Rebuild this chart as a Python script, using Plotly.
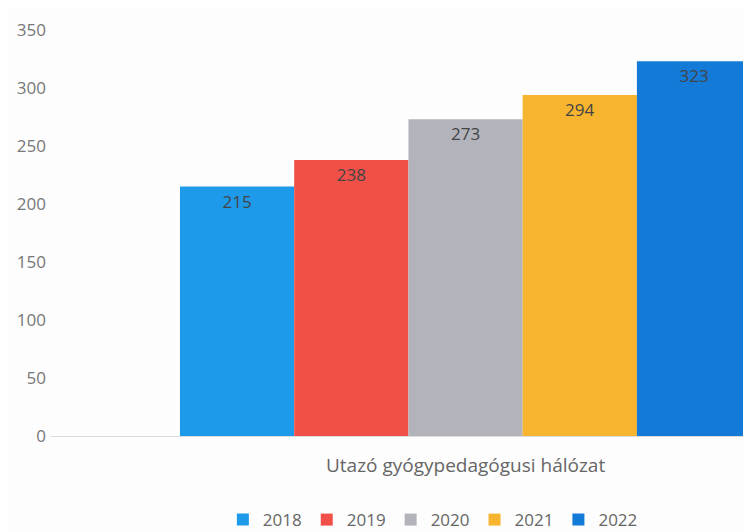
import plotly.graph_objects as go

category = ["Utazó gyógypedagógusi hálózat"]
years = ["2018", "2019", "2020", "2021", "2022"]
values = [215, 238, 273, 294, 323]
colors = ["#1E9AEA", "#F05048", "#B3B3BC", "#F7B52F", "#137AD8"]

fig = go.Figure()
for yr, v, c in zip(years, values, colors):
    fig.add_trace(go.Bar(
        x=category, y=[v], name=yr, marker_color=c, marker_line_width=0,
        text=[str(v)], textposition="inside", insidetextanchor="end",
        textfont=dict(color="#444444", size=17, family="Open Sans"),
    ))

fig.update_layout(
    width=751, height=532,
    margin=dict(l=42, r=0, t=22, b=104, autoexpand=False),
    paper_bgcolor="#FDFDFD", plot_bgcolor="#FDFDFD",
    barmode="group", bargap=0.2, bargroupgap=0,
    font=dict(family="Open Sans", color="#666666"),
    legend=dict(orientation="h", x=0.54, xanchor="center", y=-0.207, yanchor="middle",
                font=dict(size=17, color="#666666"), itemwidth=30),
    showlegend=True,
)
fig.update_yaxes(range=[0, 350], dtick=50, showgrid=False, zeroline=False,
                 automargin=False,
                 tickfont=dict(size=17, color="#777777"), ticklabelstandoff=3)
fig.update_xaxes(range=[-0.582, 0.411], showgrid=False, automargin=False,
                 showline=True, linecolor="#DDDDDD", ticklabelstandoff=12,
                 tickfont=dict(size=19, color="#666666"))

fig.write_html("out.html")
